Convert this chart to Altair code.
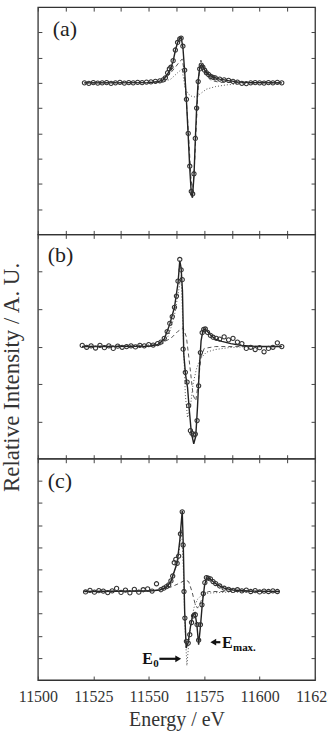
import altair as alt
import pandas as pd

# ---------------- data ----------------
XTICKS = [11500, 11512.5, 11525, 11537.5, 11550, 11562.5, 11575, 11587.5, 11600, 11612.5, 11625]
XDOM = [11500, 11625]

# panel (a)
a_circ_e = [11521, 11523, 11525, 11527, 11529, 11531, 11533, 11535, 11537, 11539, 11541, 11543, 11545, 11547, 11549, 11551, 11553, 11555,
            11556.5, 11557.5, 11558.5, 11559.3, 11560.0, 11561.0, 11562.0, 11563.0, 11564.0, 11564.6,
            11565.4, 11566.2, 11567.0, 11567.8, 11568.5, 11569.2, 11569.8, 11570.4, 11571.0, 11571.6,
            11572.3, 11573.0, 11573.7, 11574.4, 11575.2, 11576.0, 11577.0, 11578.0, 11579.0, 11580.0,
            11582, 11584, 11586, 11588, 11590, 11592, 11594, 11596, 11598, 11600, 11602, 11604, 11606, 11608, 11610]
a_circ_v = [0.00, -0.02, 0.01, -0.01, 0.00, 0.01, -0.02, 0.00, 0.02, -0.01, 0.01, 0.00, 0.02, 0.01, 0.03, 0.04, 0.06, 0.08,
            0.12, 0.20, 0.40, 0.55, 0.62, 0.88, 1.30, 1.60, 1.74, 1.77,
            1.45, 0.50, -0.65, -2.0, -3.3, -4.3, -4.4, -3.6, -2.2, -1.0,
            0.05, 0.55, 0.70, 0.62, 0.50, 0.40, 0.33, 0.26, 0.22, 0.20,
            0.15, 0.12, 0.10, 0.06, 0.03, -0.02, -0.03, 0.00, 0.01, 0.00, -0.01, 0.01, 0.00, 0.02, 0.00]
a_fit_e = [11521, 11550, 11554, 11556.5, 11558.5, 11560, 11561, 11562, 11563, 11564,
           11564.6, 11565.4, 11566.2, 11567, 11567.8, 11568.5, 11569.2, 11569.7, 11570.4, 11571,
           11571.6, 11572.3, 11573, 11573.7, 11574.4, 11575.5, 11577, 11579, 11582, 11586,
           11590, 11595, 11610]
a_fit_v = [0, 0.01, 0.04, 0.12, 0.35, 0.6, 0.86, 1.28, 1.6, 1.76,
           1.8, 1.42, 0.45, -0.7, -2.1, -3.4, -4.4, -4.55, -3.7, -2.25,
           -1.0, 0.1, 0.6, 0.72, 0.62, 0.47, 0.33, 0.23, 0.15, 0.09,
           0.04, 0.01, 0]
a_dash_e = [11521, 11550, 11556, 11559, 11562, 11564, 11565.1, 11566, 11567.5, 11569, 11569.7, 11570.5, 11571.5, 11572.5, 11573.5, 11574.5, 11576, 11578, 11582, 11610]
a_dash_v = [0, 0.02, 0.08, 0.3, 0.62, 0.85, 0.94, 0.45, -1.4, -3.7, -4.3, -3.5, -1.6, 0.2, 0.9, 0.7, 0.3, 0.1, 0.02, 0]
a_dot_e = [11521, 11556, 11560, 11563, 11565, 11566.5, 11568, 11569.5, 11571, 11573, 11576, 11580, 11585, 11591, 11600, 11610]
a_dot_v = [0, 0.02, 0.15, 0.4, 0.55, -0.24, -0.45, -0.54, -0.56, -0.45, -0.25, -0.15, -0.08, -0.04, 0, 0]

# panel (b)
b_circ_e = [11520, 11522, 11524, 11526, 11528, 11530, 11532, 11534, 11536, 11538, 11540, 11542, 11544, 11546, 11548, 11550, 11552, 11554,
            11555.5, 11557.0, 11558.3, 11559.5, 11560.6, 11561.6, 11562.5, 11563.2, 11564.0, 11564.6,
            11565.1, 11565.5, 11566.5, 11567.3, 11568.0, 11568.8, 11569.5, 11570.2, 11571.0, 11571.8,
            11572.5, 11573.3, 11574.1, 11574.8, 11575.5, 11576.5, 11577.8, 11579.0, 11580.5,
            11582, 11584, 11586, 11588, 11590, 11592, 11594, 11596, 11598, 11600, 11602, 11604, 11606, 11608, 11610]
b_circ_v = [0.03, -0.02, 0.02, -0.04, 0.03, -0.03, 0.02, -0.05, 0.01, -0.02, 0.00, 0.02, -0.01, 0.03, 0.02, 0.05, 0.04, 0.08,
            0.12, 0.22, 0.40, 0.62, 0.80, 1.05, 1.35, 1.75, 2.33, 2.05,
            1.79, -0.07, -0.69, -0.95, -1.58, -2.25, -2.32, -2.36, -2.34, -1.98,
            -1.05, -0.16, 0.37, 0.46, 0.47, 0.38, 0.30, 0.25, 0.22,
            0.20, 0.26, 0.18, 0.22, 0.12, 0.08, -0.05, -0.02, -0.08, -0.03, -0.14, -0.05, -0.02, 0.10, 0.00]
b_fit_e = [11520, 11550, 11554, 11557, 11559.5, 11561.6, 11563.2, 11564.0, 11564.6, 11565.2,
           11565.8, 11566.6, 11567.5, 11568.3, 11569.2, 11570.3, 11571.2, 11572, 11572.8, 11573.6,
           11574.4, 11575.3, 11576.5, 11578, 11580, 11583, 11587, 11592, 11600, 11610]
b_fit_v = [0, 0.01, 0.05, 0.2, 0.6, 1.05, 1.7, 2.3, 2.1, 1.5,
           -0.2, -0.75, -1.1, -1.7, -2.3, -2.6, -2.4, -1.6, -0.6, 0.15,
           0.42, 0.47, 0.4, 0.3, 0.2, 0.14, 0.08, 0.03, 0.0, 0]
b_dash_e = [11520, 11550, 11556, 11560, 11563, 11565.5, 11567, 11568.5, 11570, 11571.2, 11572.3, 11573.5, 11575, 11580, 11610]
b_dash_v = [0, 0.02, 0.1, 0.22, 0.4, 0.5, 0.25, -0.5, -1.3, -1.45, -1.0, -0.3, -0.05, 0, 0]
b_dot_e = [11520, 11556, 11559, 11561.5, 11563.5, 11564.6, 11565.5, 11566.5, 11567.5, 11568.8, 11570, 11571.5, 11573, 11576, 11580, 11586, 11595, 11610]
b_dot_v = [0, 0.05, 0.3, 0.8, 1.5, 1.9, 0.4, -1.3, -1.9, -1.6, -1.0, -0.6, -0.35, -0.15, -0.08, -0.03, 0, 0]

# panel (c)
c_circ_e = [11521.5, 11523.5, 11525.5, 11527.5, 11529.5, 11531.5, 11533.5, 11535.5, 11537.5, 11539.5, 11541.5, 11543.5, 11545.5, 11547.5, 11549.5, 11551.5, 11553.5, 11555.5,
            11556.8, 11558.0, 11559.0, 11560.0, 11560.8, 11561.5, 11562.2, 11562.8, 11563.5, 11564.3,
            11565.1, 11565.5, 11565.9, 11566.3, 11567.0, 11567.8, 11568.5, 11569.3, 11570.2, 11571.0,
            11571.8, 11572.5, 11573.3, 11574.0, 11574.6, 11575.3, 11576.0, 11576.8, 11577.8, 11579.0, 11580.2,
            11582, 11584, 11586, 11588, 11590, 11592, 11594, 11596, 11598, 11600, 11602, 11604, 11606, 11608]
c_circ_v = [-0.02, 0.05, -0.03, 0.04, 0.02, -0.05, 0.03, 0.14, -0.04, 0.06, -0.06, 0.10, -0.03, 0.08, 0.12, 0.02, 0.35, 0.08,
            0.15, 0.22, 0.30, 0.48, 0.70, 1.30, 1.45, 1.27, 1.60, 2.60,
            3.60, 2.10, 0.00, -1.20, -2.25, -2.33, -1.95, -1.40, -1.10, -1.05,
            -1.50, -2.20, -1.50, -0.60, -0.10, 0.40, 0.63, 0.60, 0.57, 0.45, 0.36,
            0.25, 0.15, 0.10, 0.05, 0.08, 0.03, 0.06, 0.00, 0.04, -0.02, 0.02, 0.00, 0.03, 0.00]
c_fit_e = [11521, 11550, 11555, 11558, 11560, 11561.5, 11562.8, 11564, 11565.1, 11565.6,
           11566.2, 11566.9, 11567.8, 11568.8, 11570, 11570.8, 11571.7, 11572.5, 11573.3, 11574.2,
           11575.2, 11576.2, 11577.5, 11579, 11581, 11584, 11588, 11595, 11609]
c_fit_v = [0, 0.02, 0.07, 0.2, 0.45, 0.9, 1.3, 2.3, 3.65, 2.0,
           -0.9, -2.55, -2.3, -1.6, -1.0, -0.95, -1.5, -2.4, -1.6, -0.5,
           0.3, 0.62, 0.58, 0.45, 0.3, 0.15, 0.07, 0.02, 0]
c_dash_e = [11521, 11550, 11555, 11560, 11564, 11566.5, 11568, 11569.5, 11571, 11572, 11573.5, 11575, 11577, 11609]
c_dash_v = [0, 0.02, 0.08, 0.2, 0.38, 0.52, 0.45, 0.0, -0.6, -0.75, -0.45, -0.1, 0, 0]
c_dot_e = [11521, 11556, 11560, 11563, 11564.8, 11565.6, 11566.3, 11567.2, 11568, 11569.2, 11570.5, 11572, 11574, 11577, 11585, 11595, 11609]
c_dot_v = [0, 0.05, 0.5, 1.3, 2.8, 1.0, -1.5, -3.35, -2.4, -1.3, -0.7, -0.35, -0.15, -0.07, -0.03, 0, 0]

# panel labels (data coordinates)
label_text = ["(a)", "(b)", "(c)"]
label_e = [11506.7, 11504.4, 11504.4]
label_v = [1.87, 2.27, 4.69]

# annotations in panel (c)
e0_main = {"T": ["E"], "E": [11547.1], "V": [-3.29]}
e0_sub = {"T": ["0"], "E": [11552.0], "V": [-3.41]}
em_main = {"T": ["E"], "E": [11583.0], "V": [-2.55]}
em_sub = {"T": ["max."], "E": [11588.0], "V": [-2.69]}
arrow_from = [11554.8, 11582.3]
arrow_to = [11563.3, 11579.1]
arrow_v = [-3.04, -2.29]
arrow_shape = ["triangle-right", "triangle-left"]

SERIF = "Liberation Serif, Times New Roman, Times, serif"


def df(e, v):
    assert len(e) == len(v)
    return pd.DataFrame({"E": e, "V": v})


def make_panel(circ, fit, dash, dot, ydom, yticks, h, idx, bottom=False, ytitle=False, annot=False):
    xs = alt.Scale(domain=XDOM, nice=False, zero=False)
    ys = alt.Scale(domain=ydom, nice=False, zero=False)
    xkw = dict(orient="bottom", values=XTICKS, tickSize=4, offset=-4, domain=False, grid=False,
               tickColor="#444", tickWidth=1)
    if bottom:
        xkw.update(labels=True, labelExpr="datum.value % 25 == 0 ? '' + datum.value : ''",
                   labelFont=SERIF, labelFontSize=16, labelColor="#333", labelPadding=9,
                   labelOverlap=False, labelFlush=False, labelBound=False,
                   title="Energy / eV", titleFont=SERIF, titleFontSize=20,
                   titleFontWeight="normal", titleColor="#333", titlePadding=5)
    else:
        xkw.update(labels=False, title=None)
    ykw = dict(orient="left", values=yticks, tickSize=4, offset=-4, domain=False, grid=False,
               labels=False, tickColor="#444", tickWidth=1)
    if ytitle:
        ykw.update(title="Relative Intensity / A. U.", titleFont=SERIF, titleFontSize=23,
                   titleFontWeight="normal", titleColor="#333", titleAngle=270, titleAlign="center",
                   titleBaseline="alphabetic", titleX=-23, titleY=143)
    else:
        ykw.update(title=None)
    X = alt.X("E:Q", scale=xs, axis=alt.Axis(**xkw))
    Y = alt.Y("V:Q", scale=ys, axis=alt.Axis(**ykw))

    lab = pd.DataFrame({"E": [label_e[idx]], "V": [label_v[idx]], "T": [label_text[idx]]})
    layers = [
        alt.Chart(dot).mark_line(strokeDash=[1, 2], color="#555", strokeWidth=1).encode(X, Y),
        alt.Chart(dash).mark_line(strokeDash=[4, 3], color="#555", strokeWidth=1).encode(X, Y),
        alt.Chart(fit).mark_line(color="#222", strokeWidth=1.4).encode(X, Y),
        alt.Chart(circ).mark_point(shape="circle", filled=False, size=18, color="#333",
                                   strokeWidth=1.1, opacity=1).encode(X, Y),
        alt.Chart(lab).mark_text(align="left", baseline="alphabetic", font=SERIF, fontSize=22,
                                 color="#222").encode(X, Y, text="T:N"),
    ]
    if annot:
        arr = pd.DataFrame({"E": arrow_from, "E2": arrow_to, "V": arrow_v, "S": arrow_shape})
        layers += [
            alt.Chart(arr).mark_rule(color="#111", strokeWidth=2.2).encode(X, x2="E2:Q", y=Y),
            alt.Chart(arr).mark_point(filled=True, size=45, color="#111", opacity=1).encode(
                x=alt.X("E2:Q", scale=xs), y=Y,
                shape=alt.Shape("S:N", scale=alt.Scale(domain=arrow_shape, range=arrow_shape), legend=None)),
            alt.Chart(pd.DataFrame(e0_main)).mark_text(align="left", baseline="alphabetic", font=SERIF,
                                                       fontSize=16, fontWeight="bold", color="#111").encode(X, Y, text="T:N"),
            alt.Chart(pd.DataFrame(e0_sub)).mark_text(align="left", baseline="alphabetic", font=SERIF,
                                                      fontSize=11, fontWeight="bold", color="#111").encode(X, Y, text="T:N"),
            alt.Chart(pd.DataFrame(em_main)).mark_text(align="left", baseline="alphabetic", font=SERIF,
                                                       fontSize=16, fontWeight="bold", color="#111").encode(X, Y, text="T:N"),
            alt.Chart(pd.DataFrame(em_sub)).mark_text(align="left", baseline="alphabetic", font=SERIF,
                                                      fontSize=11, fontWeight="bold", color="#111").encode(X, Y, text="T:N"),
        ]
    inner = alt.layer(*layers)

    Xt = alt.X("E:Q", scale=alt.Scale(domain=XDOM, nice=False, zero=False),
               axis=alt.Axis(orient="top", values=XTICKS, tickSize=4, offset=-4, domain=False, grid=False,
                             labels=False, title=None, tickColor="#444", tickWidth=1))
    Yr = alt.Y("V:Q", scale=alt.Scale(domain=ydom, nice=False, zero=False),
               axis=alt.Axis(orient="right", values=yticks, tickSize=4, offset=-4, domain=False, grid=False,
                             labels=False, title=None, tickColor="#444", tickWidth=1))
    frame = alt.Chart(fit).mark_point(opacity=0).encode(Xt, Yr)
    return alt.layer(inner, frame).resolve_scale(x="independent", y="independent").properties(width=278, height=h)


pa = make_panel(df(a_circ_e, a_circ_v), df(a_fit_e, a_fit_v), df(a_dash_e, a_dash_v), df(a_dot_e, a_dot_v),
                [-6, 3], [-5, -4, -3, -2, -1, 0, 1, 2], 228, 0)
pb = make_panel(df(b_circ_e, b_circ_v), df(b_fit_e, b_fit_v), df(b_dash_e, b_dash_v), df(b_dot_e, b_dot_v),
                [-3, 3], [-2, -1, 0, 1, 2], 225, 1, ytitle=True)
pc = make_panel(df(c_circ_e, c_circ_v), df(c_fit_e, c_fit_v), df(c_dash_e, c_dash_v), df(c_dot_e, c_dot_v),
                [-4, 6], [-3, -2, -1, 0, 1, 2, 3, 4, 5], 222, 2, bottom=True, annot=True)

chart = alt.vconcat(pa, pb, pc, spacing=0, bounds="flush").properties(
    padding={"top": 4, "left": 0, "right": -8, "bottom": 0},
    background="white",
).configure_view(stroke="#333", strokeWidth=1.3)

chart.save("out.html", embed_options={"renderer": "svg", "actions": False})
